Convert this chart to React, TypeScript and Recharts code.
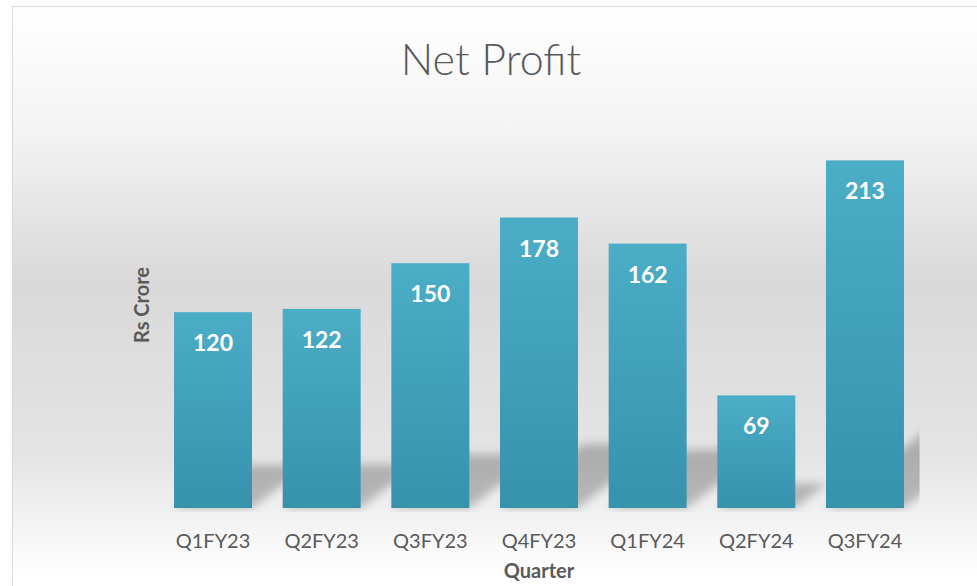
import React from 'react';
import { BarChart, Bar, XAxis, YAxis, LabelList } from 'recharts';

const categories = ['Q1FY23', 'Q2FY23', 'Q3FY23', 'Q4FY23', 'Q1FY24', 'Q2FY24', 'Q3FY24'];
const netProfit = [120, 122, 150, 178, 162, 69, 213];
const titleText = 'Net Profit';
const xAxisTitle = 'Quarter';
const yAxisTitle = 'Rs Crore';
const yDomain = [0, 250];

const data = categories.map((q, i) => ({ quarter: q, value: netProfit[i] }));

const FONT = 'Lato, "Open Sans", sans-serif';
const GREY = '#595959';

const BarWithShadow = (props: any) => {
  const { x, y, width, height, index } = props;
  if (height == null || height <= 0) return null;
  const base = y + height;
  const sh = height * 0.22;
  const dx = sh * 1.3;
  const isLast = index === data.length - 1;
  const clipRight = isLast ? x + width + width * 0.2 : x + width + 200;
  const pts = `${x},${base} ${x + width},${base} ${x + width + dx},${base - sh} ${x + dx},${base - sh}`;
  return (
    <g>
      <defs>
        <clipPath id={`shclip-${index}`}>
          <rect x={x - 30} y={base - sh - 40} width={clipRight - x + 30} height={sh + 44} />
        </clipPath>
      </defs>
      <g clipPath={`url(#shclip-${index})`}>
        <polygon points={pts} fill="rgba(0,0,0,0.24)" filter="url(#shadowBlur)" />
      </g>
      <rect x={x} y={y} width={width} height={height} fill="url(#barGrad)" />
    </g>
  );
};

const ValueLabel = (props: any) => {
  const { x, y, width, value } = props;
  return (
    <text
      x={x + width / 2}
      y={y + 39}
      textAnchor="middle"
      fill="#ffffff"
      fontFamily={FONT}
      fontWeight={700}
      fontSize={23}
    >
      {value}
    </text>
  );
};

const Tick = (props: any) => {
  const { x, y, payload } = props;
  return (
    <text x={x} y={y + 40} textAnchor="middle" fill={GREY} fontFamily={FONT} fontSize={20}>
      {payload.value}
    </text>
  );
};

export default function App() {
  return (
    <div style={{ position: 'fixed', left: 0, top: 0, width: 977, height: 586, overflow: 'hidden', background: '#ffffff' }}>
      <div
        style={{
          position: 'absolute',
          left: 12,
          top: 6,
          width: 990,
          height: 600,
          border: '1px solid #d9d9d9',
          boxSizing: 'border-box',
          background: 'linear-gradient(to bottom, #ffffff 0%, #f4f4f4 20%, #d9d9d9 46%, #e4e4e4 75%, #ffffff 95%)',
        }}
      />
      <svg width={0} height={0} style={{ position: 'absolute' }}>
        <defs>
          <linearGradient id="barGrad" x1="0" y1="0" x2="0" y2="1">
            <stop offset="0%" stopColor="#4badc6" />
            <stop offset="100%" stopColor="#3792ac" />
          </linearGradient>
          <filter id="shadowBlur" x="-50%" y="-50%" width="200%" height="200%">
            <feGaussianBlur stdDeviation="5" />
          </filter>
        </defs>
      </svg>
      <div style={{ position: 'absolute', left: 0, top: 0 }}>
        <BarChart
          width={977}
          height={586}
          data={data}
          margin={{ top: 100, right: 57.7, left: 158.7, bottom: 48 }}
          barCategoryGap="14.1%"
        >
          <XAxis
            dataKey="quarter"
            axisLine={false}
            tickLine={false}
            tickSize={0}
            tickMargin={0}
            height={30}
            interval={0}
            tick={<Tick />}
          />
          <YAxis hide domain={yDomain} />
          <Bar dataKey="value" isAnimationActive={false} shape={<BarWithShadow />}>
            <LabelList dataKey="value" content={<ValueLabel />} />
          </Bar>
        </BarChart>
      </div>
      <svg width={977} height={586} style={{ position: 'absolute', left: 0, top: 0, pointerEvents: 'none' }}>
        <text x={491} y={75} textAnchor="middle" fill={GREY} fontFamily={FONT} fontWeight={300} fontSize={43}>
          {titleText}
        </text>
        <text x={539} y={578} textAnchor="middle" fill={GREY} fontFamily={FONT} fontWeight={700} fontSize={20}>
          {xAxisTitle}
        </text>
        <text
          x={149}
          y={305}
          transform="rotate(-90, 149, 305)"
          textAnchor="middle"
          fill={GREY}
          fontFamily={FONT}
          fontWeight={700}
          fontSize={20}
        >
          {yAxisTitle}
        </text>
      </svg>
    </div>
  );
}
